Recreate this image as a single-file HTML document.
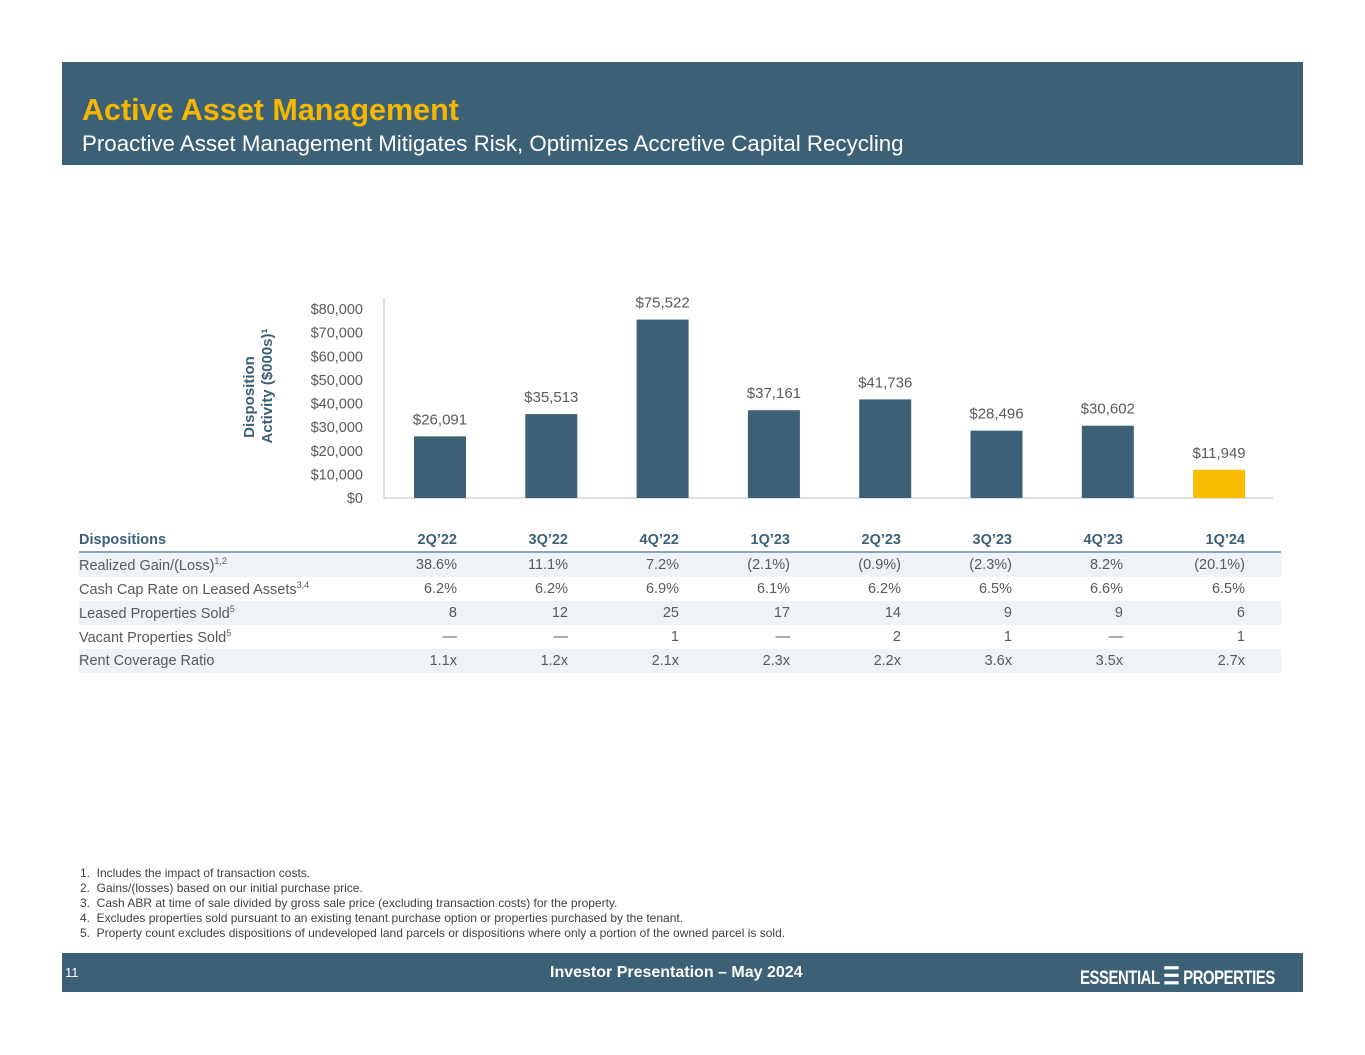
<!DOCTYPE html>
<html><head><meta charset="utf-8"><style>
body{margin:0;width:1365px;height:1055px;background:#fff;font-family:"Liberation Sans",Arial,sans-serif;position:relative;overflow:hidden}
.abs{position:absolute}
#hdr{left:62px;top:62px;width:1241px;height:103px;background:#3c6177}
#title{left:20px;top:31px;font-size:30.5px;font-weight:bold;color:#f5b700}
#sub{left:20px;top:69px;font-size:22.3px;color:#fff;white-space:nowrap}
#ftr{left:62px;top:953px;width:1241px;height:39px;background:#3c6177;color:#fff}
table{position:absolute;left:79px;top:529px;width:1202px;border-collapse:collapse;font-size:14.5px;color:#595959;table-layout:fixed}
td{height:24px;padding:0;text-align:right}
th{font-weight:bold;color:#3c6177;height:22px;text-align:right;padding:0;border-bottom:2px solid #8fa3b0}
th:first-child,td:first-child{text-align:left}
tr.s td{background:#edf3f7}
sup{font-size:9px;vertical-align:6px}
.fn{left:80px;font-size:12px;color:#404040;white-space:nowrap}
td:last-child,th:last-child{padding-right:36px}
</style></head><body>
<div id="hdr" class="abs">
<div id="title" class="abs">Active Asset Management</div>
<div id="sub" class="abs">Proactive Asset Management Mitigates Risk, Optimizes Accretive Capital Recycling</div>
</div>
<svg class="abs" style="left:0;top:0" width="1365" height="520" id="chart"></svg>
<table>
<colgroup><col style="width:267px"><col style="width:111px"><col style="width:111px"><col style="width:111px"><col style="width:111px"><col style="width:111px"><col style="width:111px"><col style="width:111px"><col style="width:158px"></colgroup>
<tr><th>Dispositions</th><th>2Q’22</th><th>3Q’22</th><th>4Q’22</th><th>1Q’23</th><th>2Q’23</th><th>3Q’23</th><th>4Q’23</th><th>1Q’24</th></tr>
<tr class="s"><td>Realized Gain/(Loss)<sup>1,2</sup></td><td>38.6%</td><td>11.1%</td><td>7.2%</td><td>(2.1%)</td><td>(0.9%)</td><td>(2.3%)</td><td>8.2%</td><td>(20.1%)</td></tr>
<tr><td>Cash Cap Rate on Leased Assets<sup>3,4</sup></td><td>6.2%</td><td>6.2%</td><td>6.9%</td><td>6.1%</td><td>6.2%</td><td>6.5%</td><td>6.6%</td><td>6.5%</td></tr>
<tr class="s"><td>Leased Properties Sold<sup>5</sup></td><td>8</td><td>12</td><td>25</td><td>17</td><td>14</td><td>9</td><td>9</td><td>6</td></tr>
<tr><td>Vacant Properties Sold<sup>5</sup></td><td>—</td><td>—</td><td>1</td><td>—</td><td>2</td><td>1</td><td>—</td><td>1</td></tr>
<tr class="s"><td>Rent Coverage Ratio</td><td>1.1x</td><td>1.2x</td><td>2.1x</td><td>2.3x</td><td>2.2x</td><td>3.6x</td><td>3.5x</td><td>2.7x</td></tr>
</table>
<div class="abs fn" style="top:866px;line-height:15px">1.&nbsp; Includes the impact of transaction costs.<br>2.&nbsp; Gains/(losses) based on our initial purchase price.<br>3.&nbsp; Cash ABR at time of sale divided by gross sale price (excluding transaction costs) for the property.<br>4.&nbsp; Excludes properties sold pursuant to an existing tenant purchase option or properties purchased by the tenant.<br>5.&nbsp; Property count excludes dispositions of undeveloped land parcels or dispositions where only a portion of the owned parcel is sold.</div>
<div id="ftr" class="abs">
<div class="abs" style="left:3px;top:12px;font-size:13px">11</div>
<div class="abs" style="left:488px;top:11px;font-size:16px;font-weight:bold;white-space:nowrap">Investor Presentation – May 2024</div>
<div class="abs" style="left:1018px;top:9px;font-size:19px;font-weight:bold;letter-spacing:-0.5px;transform:scaleX(0.78);transform-origin:left;white-space:nowrap">ESSENTIAL <span style="font-size:24px">☰</span> PROPERTIES</div>
</div>
<script>
const categories=["2Q'22","3Q'22","4Q'22","1Q'23","2Q'23","3Q'23","4Q'23","1Q'24"];
const values=[26091,35513,75522,37161,41736,28496,30602,11949];
const ticks=[0,10000,20000,30000,40000,50000,60000,70000,80000];
const svg=document.getElementById('chart');const NS='http://www.w3.org/2000/svg';
const y0=498,yTop=309,maxV=80000,x0=384,step=111.3,bw=52;
const y=v=>y0-(v/maxV)*(y0-yTop);
const x=i=>x0+56+i*step;
const fmt=v=>'$'+v.toLocaleString('en-US');
function mk(t,a,txt){const e=document.createElementNS(NS,t);for(const k in a)e.setAttribute(k,a[k]);if(txt!=null)e.textContent=txt;svg.appendChild(e);return e;}
ticks.forEach(t=>{const e=mk('text',{x:363,y:y(t)+5,'text-anchor':'end','font-size':14.5,fill:'#595959'},fmt(t));

});
const ax=mk('line',{x1:x0,y1:298,x2:x0,y2:y0,stroke:'#bfbfbf'});


const bx=mk('line',{x1:x0,y1:y0,x2:1273,y2:y0,stroke:'#bfbfbf'});


values.forEach((v,i)=>{const r=mk('rect',{x:x(i)-bw/2,y:y(v),width:bw,height:y0-y(v),fill:i==values.length-1?'#fbbd00':'#3c6177'});


const l=mk('text',{x:x(i),y:y(v)-12,'text-anchor':'middle','font-size':15,fill:'#595959'},fmt(v));

});
const t=mk('text',{transform:'translate(254,397) rotate(-90)','text-anchor':'middle','font-size':15,'font-weight':'bold',fill:'#3c6177'},'Disposition');


const t2=mk('text',{transform:'translate(272,386) rotate(-90)','text-anchor':'middle','font-size':15,'font-weight':'bold',fill:'#3c6177'},'Activity ($000s)¹');


</script>
</body></html>
